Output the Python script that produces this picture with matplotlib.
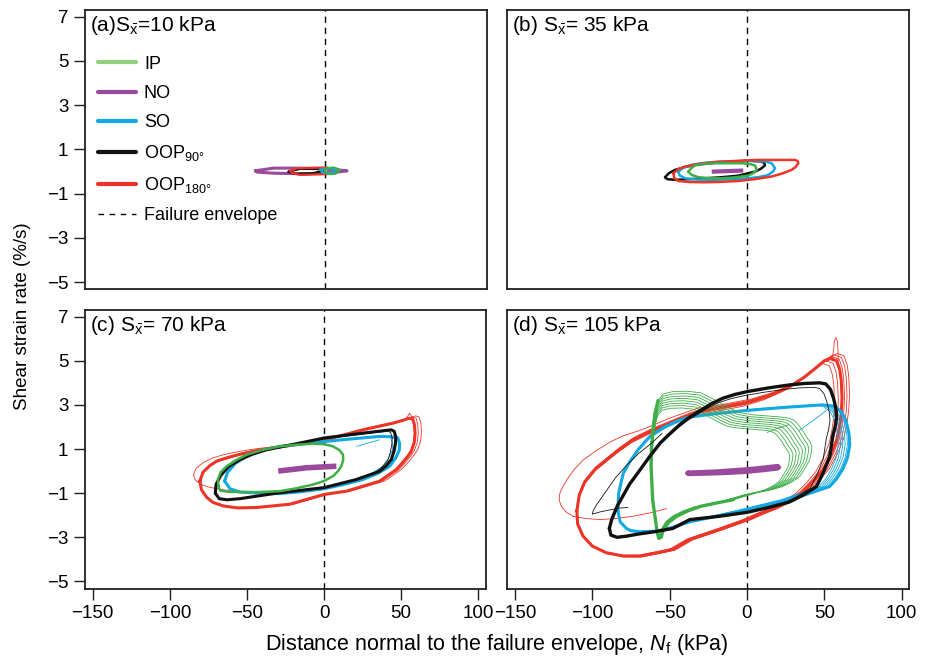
import numpy as np
import matplotlib
matplotlib.use('Agg')
import matplotlib.pyplot as plt
from matplotlib.lines import Line2D

plt.rcParams['font.family'] = ['Liberation Sans', 'DejaVu Sans']
plt.rcParams['mathtext.fontset'] = 'custom'
plt.rcParams['mathtext.rm'] = 'Liberation Sans'
plt.rcParams['mathtext.it'] = 'Liberation Sans:italic'
plt.rcParams['mathtext.default'] = 'regular'
plt.rcParams['lines.solid_joinstyle'] = 'round'
plt.rcParams['lines.solid_capstyle'] = 'round'

# colours
c_ip = '#3fae49'
c_no = '#9a4a9c'
c_so = '#12a8e2'
c_90 = '#111111'
c_180 = '#ec3427'
c_ip_leg = '#93d07c'

xticks = [-150, -100, -50, 0, 50, 100]
yticks = [-5, -3, -1, 1, 3, 5, 7]
titles = ['(a)S$_{\\bar{x}}$=10 kPa', '(b) S$_{\\bar{x}}$= 35 kPa',
          '(c) S$_{\\bar{x}}$= 70 kPa', '(d) S$_{\\bar{x}}$= 105 kPa']
leg_labels = ['IP', 'NO', 'SO', 'OOP$_{90°}$', 'OOP$_{180°}$', 'Failure envelope']

# ---- panel (a), S = 10 kPa
a_ip_x = [-0.6, 5.8, 10.1, 6.9, 1.5]
a_ip_y = [0.12, 0.18, 0.07, -0.11, -0.12]
a_no_x = [-44.8, -33, -20, -2.8, 8, 14.5, 8, -11.4, -33, -43.7]
a_no_y = [0.03, 0.15, 0.15, 0.12, 0.07, 0.03, -0.03, -0.11, -0.08, -0.03]
a_so_x = [-3, 2, 7, 5, -1]
a_so_y = [0.08, 0.14, 0.06, -0.06, -0.05]
a_90_x = [-23.3, -15.7, -2.8, -0.6, -7.1, -20]
a_90_y = [-0.01, 0.12, 0.12, 0.04, -0.08, -0.11]
a_180_x = [-22.2, -17.8, 1.5, 5.8, 1.5, -15.7, -21.1]
a_180_y = [0.03, 0.15, 0.18, 0.07, -0.12, -0.16, -0.08]

# ---- panel (b), S = 35 kPa
b_ip_x = [-37.9, -36, -33.6, -27, -20.7, -3.4, 2, 5.2, 6.3, 4, 0.8, -8, -16.4, -25, -31.5, -36]
b_ip_y = [-0.01, 0.15, 0.27, 0.34, 0.37, 0.37, 0.33, 0.27, 0.07, -0.08, -0.19, -0.27, -0.31, -0.3, -0.26, -0.15]
b_no_x = [-22.8, -2.4]
b_no_y = [-0.01, 0.04]
b_so_x = [-44.4, -41, -35.7, -26, -16.4, 5.2, 12, 16, 18.1, 17, 13.8, 8, 0.8, -10, -20.7, -32, -40, -43.5]
b_so_y = [-0.01, 0.17, 0.3, 0.4, 0.45, 0.49, 0.45, 0.37, 0.15, 0.0, -0.16, -0.25, -0.31, -0.35, -0.38, -0.37, -0.31, -0.18]
b_90_x = [-53, -50.5, -46.5, -40, -33.6, -16.4, 0.8, 9.5, 11.3, 11.6, 9, 5.2, -5.6, -16, -27.1, -37, -46.5, -51.5]
b_90_y = [-0.26, -0.08, 0.07, 0.2, 0.3, 0.42, 0.48, 0.45, 0.38, 0.27, 0.12, -0.01, -0.19, -0.26, -0.31, -0.35, -0.38, -0.35]
b_180_x = [-47.6, -44.5, -40, -31, -20.7, 5.2, 31, 32.8, 33.2, 31.5, 28.9, 23, 16, 5, -5.6, -16, -27.1, -37, -44.4, -47]
b_180_y = [-0.08, 0.1, 0.22, 0.34, 0.42, 0.52, 0.52, 0.47, 0.37, 0.2, 0.07, -0.09, -0.23, -0.35, -0.43, -0.47, -0.49, -0.48, -0.43, -0.3]

# ---- panel (c), S = 70 kPa
c_ip_x = [-68.5, -68.8, -67, -63.1, -57, -50.2, -40, -28.6, -17, -7.1, 0, 5.8, 10, 12.3, 12.4, 11.2,
          8.8, 5.8, 0, -7.1, -18, -28.6, -42, -54.5, -62, -67.4]
c_ip_y = [-0.68, -0.35, -0.05, 0.22, 0.5, 0.74, 0.96, 1.12, 1.2, 1.24, 1.22, 1.12, 0.95, 0.74, 0.5, 0.22,
          -0.02, -0.23, -0.45, -0.61, -0.78, -0.91, -0.95, -0.95, -0.94, -0.88]
c_no_x = [-29.7, -11.4, 8]
c_no_y = [0.0, 0.15, 0.22]
c_so_x = [-64.5, -61, -54.5, -42, -28.6, -14, 0, 12, 25.2, 35, 42.5, 46.5, 48.8, 49, 47.8, 43, 36, 18, 0,
          -14, -28.6, -40, -50.2, -57.5, -62.5]
c_so_y = [-0.45, -0.8, -0.95, -1.0, -1.02, -0.93, -0.8, -0.62, -0.38, -0.1, 0.22, 0.6, 0.95, 1.25, 1.5, 1.56,
          1.57, 1.46, 1.34, 1.23, 1.12, 0.93, 0.67, 0.35, -0.05]
c_90_x = [-70.5, -70, -67, -62, -54.5, -46, -37.2, -17.8, 0, 25.2, 43.6, 45.5, 46.5, 46.3, 45.3, 43.6,
          40, 36, 21, 0, -28.6, -45, -54.5, -63, -68]
c_90_y = [-1.0, -0.6, -0.2, 0.2, 0.52, 0.78, 0.97, 1.24, 1.5, 1.72, 1.87, 1.8, 1.55, 1.27, 0.9, 0.52,
          0.22, -0.01, -0.38, -0.75, -0.98, -1.15, -1.25, -1.3, -1.25]
c_180_x = [-80.5, -78.5, -74, -69.6, -62, -54.5, -44, -33, -16, 0, 25.2, 44.6, 51, 55.4, 57.5, 58.6,
           59, 58.5, 56.5, 54.3, 50.5, 46.8, 36, 14.5, 0, -22.2, -43.7, -56, -65.3, -72, -76, -79.5]
c_180_y = [-0.45, -0.05, 0.25, 0.45, 0.62, 0.76, 0.92, 1.05, 1.22, 1.4, 1.87, 2.17, 2.3, 2.4, 2.35, 2.1,
           1.7, 1.3, 0.9, 0.67, 0.35, 0.07, -0.46, -0.91, -1.06, -1.5, -1.65, -1.67, -1.58, -1.42, -1.2, -0.85]
c_180_start_x = [-43.7, -55, -65, -74, -80, -83.5, -84.7, -83, -78, -72, -65.3, -58, -50, -42, -33]
c_180_start_y = [-0.98, -0.93, -0.85, -0.74, -0.6, -0.4, -0.16, 0.12, 0.4, 0.6, 0.74, 0.85, 0.95, 1.03, 1.1]
c_180_spike_x = [53, 55.4, 57.5]
c_180_spike_y = [2.35, 2.62, 2.4]
c_so_start_x = [21, 36]
c_so_start_y = [1.12, 1.42]

# ---- panel (d), S = 105 kPa
d_ip_x = [-59.5, -57.5, -54, -48, -39, -30, -20, -11, -4.7, 4, 13, 22, 27, 30, 32, 35.5, 38.5, 41, 42,
          41.5, 40.5, 37.5, 34, 29, 23, 16, 8, -9, -20, -30, -38, -45.5, -51, -54.5, -55.5, -57, -58,
          -59, -61, -62, -61.8, -61]
d_ip_y = [2.6, 3.2, 3.5, 3.6, 3.62, 3.55, 3.2, 2.85, 2.65, 2.55, 2.5, 2.45, 2.4, 2.32, 2.2, 1.9, 1.55, 1.3, 1.1,
          0.8, 0.5, 0.12, -0.25, -0.5, -0.7, -0.84, -0.95, -1.3, -1.45, -1.6, -1.8, -2.05, -2.35, -2.75,
          -3.0, -3.05, -2.8, -2.3, -1.3, 0.2, 1.0, 1.75]
d_no_x = [-38, -30, -20, -10, 0, 10, 20, 21, 20, 10, 0, -10, -20, -30, -38, -39]
d_no_y = [-0.05, -0.03, 0.0, 0.05, 0.1, 0.17, 0.25, 0.17, 0.1, 0.02, -0.05, -0.09, -0.12, -0.14, -0.15, -0.1]
d_so_x = [-83.5, -83, -80, -76, -70, -63, -53, -43.5, -37, -18, 0, 27, 49, 56, 61, 64, 66, 66.5, 65, 62,
          58, 53.5, 41, 27.5, 14, 0, -18, -37, -48, -58, -69, -75, -78, -82]
d_so_y = [-1.8, -1.0, -0.1, 0.4, 1.0, 1.55, 2.0, 2.3, 2.45, 2.62, 2.75, 2.9, 3.0, 2.95, 2.7, 2.3, 1.7, 1.2, 0.6,
          0.1, -0.35, -0.7, -1.0, -1.3, -1.52, -1.75, -2.02, -2.3, -2.55, -2.72, -2.75, -2.7, -2.6, -2.3]
d_90_x = [-89, -87.5, -84, -80, -76, -69, -62.5, -56, -49.5, -43.5, -37, -30, -23, -15.7, -8, 0, 14, 27,
          37, 47, 51, 54, 56, 57.5, 58, 57, 55.5, 53.5, 49.5, 45, 36, 27.5, 14, 0, -18, -37, -48, -60,
          -70, -78, -84, -88]
d_90_y = [-2.6, -2.2, -1.6, -1.1, -0.6, 0.07, 0.7, 1.28, 1.72, 2.1, 2.45, 2.75, 3.05, 3.3, 3.47, 3.6, 3.77, 3.9,
          3.97, 4.0, 3.95, 3.7, 3.3, 2.85, 2.45, 2.0, 1.6, 0.65, -0.05, -0.7, -1.1, -1.4, -1.65, -1.87, -2.05,
          -2.2, -2.6, -2.75, -2.85, -2.95, -3.0, -2.9]
d_180_x = [-110, -108.5, -105, -98, -91, -83, -74, -63, -52, -41, -30.5, -15, 0, 14, 27, 37, 45, 50, 54,
           58, 60, 61, 61.5, 61, 59.8, 58, 54, 49, 43, 36, 27, 17, 8, 0, -18, -37, -48, -58, -69, -80,
           -91, -100, -106, -109.5]
d_180_y = [-1.8, -1.1, -0.5, 0.1, 0.5, 0.95, 1.4, 1.78, 2.1, 2.42, 2.7, 2.9, 3.1, 3.4, 3.8, 4.25, 4.7, 5.0, 5.1,
           5.0, 4.6, 4.1, 3.3, 2.6, 2.0, 1.4, 0.7, 0.05, -0.45, -0.95, -1.35, -1.7, -1.95, -2.2, -2.65,
           -3.1, -3.55, -3.7, -3.85, -3.85, -3.7, -3.4, -2.95, -2.4]
d_180_start_x = [-52, -63, -74, -85, -95, -104, -112.5, -117, -120, -121.5, -121, -119, -116.5, -112,
                 -106, -98, -89, -80, -69, -60, -50, -40, -30]
d_180_start_y = [-1.7, -1.9, -2.05, -2.15, -2.2, -2.15, -2.05, -1.85, -1.6, -1.3, -1.0, -0.7, -0.4, 0.05,
                 0.5, 0.9, 1.3, 1.6, 1.85, 2.1, 2.4, 2.65, 2.9]
d_180_spike_x = [55, 56.2, 56.5, 57.5, 58.5, 58.8, 59]
d_180_spike_y = [5.0, 5.6, 5.9, 6.05, 5.9, 5.6, 5.0]
d_90_start_x = [-77, -83, -88, -95, -100, -99.5, -97, -91, -85, -78, -70, -62, -55]
d_90_start_y = [-1.65, -1.68, -1.75, -1.85, -1.95, -1.8, -1.5, -0.9, -0.3, 0.25, 0.8, 1.25, 1.7]
d_ip_start_x = [13, 20, 27]
d_ip_start_y = [1.75, 1.95, 2.1]
d_so_start_x = [34, 43, 51.5]
d_so_start_y = [1.85, 2.3, 2.75]

# successive loading cycles: scale factor of each cycle about an anchor point
d_ip_cycles = [1.0, 0.98, 0.96, 0.94, 0.92, 0.9, 0.88, 0.86]
d_so_cycles = [1.0, 0.99, 0.98, 0.97, 0.96, 0.95]
d_180_cycles = [0.97, 0.985, 1.01, 1.02, 1.03]
d_90_cycles = [1.0, 0.97]
c_so_cycles = [1.0, 0.98, 0.96]
c_90_cycles = [1.0, 0.98]
c_180_cycles = [1.0, 1.015, 1.03]


def closed(x, y):
    x = np.asarray(x, float)
    y = np.asarray(y, float)
    return np.r_[x, x[:1]], np.r_[y, y[:1]]


def cycles(ax, x, y, color, scales, anchor, lw, yscale=True):
    x, y = closed(x, y)
    for s in scales:
        sy = s if yscale else 1.0
        ax.plot(anchor[0] + (x - anchor[0]) * s, anchor[1] + (y - anchor[1]) * sy,
                color=color, lw=lw)


fig = plt.figure(figsize=(9.27, 6.58), dpi=100)
W, H = 927, 658
boxes = [(85, 10, 402, 279.3), (507.3, 10, 402, 279.3),
         (85, 310, 401, 278.7), (507.3, 310, 402, 278.7)]
axes = []
for (l, t, w, h) in boxes:
    axes.append(fig.add_axes([l / W, 1 - (t + h) / H, w / W, h / H]))

for i, ax in enumerate(axes):
    ax.set_xlim(-155, 105)
    ax.set_ylim(-5.33, 7.3)
    ax.axvline(0, color='black', lw=1.0, ls=(0, (4.5, 3.5)), zorder=1)
    for sp in ax.spines.values():
        sp.set_linewidth(1.3)
        sp.set_color('#231f20')
    ax.set_xticks(xticks)
    ax.set_yticks(yticks)
    ax.tick_params(direction='out', length=8, width=1.0, labelsize=13.5, color='#231f20', pad=4)
    if i % 2 == 1:
        ax.tick_params(left=False, labelleft=False)
    if i < 2:
        ax.tick_params(bottom=False, labelbottom=False)
    ax.text(0.012, 0.985, titles[i], transform=ax.transAxes, fontsize=15, va='top', ha='left')

# (a)
ax = axes[0]
for x, y, c in [(a_no_x, a_no_y, c_no), (a_90_x, a_90_y, c_90), (a_180_x, a_180_y, c_180),
                (a_so_x, a_so_y, c_so), (a_ip_x, a_ip_y, c_ip)]:
    xx, yy = closed(x, y)
    ax.plot(xx, yy, color=c, lw=2.2 if c == c_no else 1.6)

# (b)
ax = axes[1]
for x, y, c in [(b_90_x, b_90_y, c_90), (b_so_x, b_so_y, c_so), (b_180_x, b_180_y, c_180),
                (b_ip_x, b_ip_y, c_ip)]:
    xx, yy = closed(x, y)
    ax.plot(xx, yy, color=c, lw=1.8)
ax.plot(b_no_x, b_no_y, color=c_no, lw=3, solid_capstyle='butt')

# (c)
ax = axes[2]
ax.plot(c_180_start_x, c_180_start_y, color=c_180, lw=0.6)
ax.plot(c_180_spike_x, c_180_spike_y, color=c_180, lw=0.6)
cycles(ax, c_180_x, c_180_y, c_180, c_180_cycles[1:], (-80, -1), 0.6)
cycles(ax, c_180_x, c_180_y, c_180, c_180_cycles[:1], (-80, -1), 2.2)
cycles(ax, c_so_x, c_so_y, c_so, c_so_cycles[1:], (-65, 0), 0.6, yscale=False)
cycles(ax, c_so_x, c_so_y, c_so, c_so_cycles[:1], (-65, 0), 2.2)
ax.plot(c_so_start_x, c_so_start_y, color=c_so, lw=0.6)
cycles(ax, c_90_x, c_90_y, c_90, c_90_cycles[1:], (-70, -1), 0.6)
cycles(ax, c_90_x, c_90_y, c_90, c_90_cycles[:1], (-70, -1), 2.2)
cycles(ax, c_ip_x, c_ip_y, c_ip, [1.0], (0, 0), 1.8)
ax.plot(c_no_x, c_no_y, color=c_no, lw=4, solid_capstyle='butt')

# (d)
ax = axes[3]
ax.plot(d_180_start_x, d_180_start_y, color=c_180, lw=0.6)
ax.plot(d_180_spike_x, d_180_spike_y, color=c_180, lw=0.6)
cycles(ax, d_180_x, d_180_y, c_180, d_180_cycles, (-100, -2.5), 0.6)
cycles(ax, d_180_x, d_180_y, c_180, [1.0], (-100, -2.5), 2.2)
cycles(ax, d_so_x, d_so_y, c_so, d_so_cycles[1:], (-83, 0), 0.6, yscale=False)
cycles(ax, d_so_x, d_so_y, c_so, d_so_cycles[:1], (-83, 0), 2.2)
ax.plot(d_so_start_x, d_so_start_y, color=c_so, lw=0.6)
cycles(ax, d_ip_x, d_ip_y, c_ip, d_ip_cycles, (-60, -1.8), 0.6)
ax.plot(d_ip_x[27:] + d_ip_x[:2], d_ip_y[27:] + d_ip_y[:2], color=c_ip, lw=2.4)
ax.plot(d_ip_start_x, d_ip_start_y, color=c_ip, lw=0.6)
ax.plot(d_90_start_x, d_90_start_y, color=c_90, lw=0.6)
cycles(ax, d_90_x, d_90_y, c_90, d_90_cycles[1:], (-85, -2.8), 0.6)
cycles(ax, d_90_x, d_90_y, c_90, d_90_cycles[:1], (-85, -2.8), 2.4)
cycles(ax, d_no_x, d_no_y, c_no, [1.0], (0, 0), 2.5)

# legend in panel (a)
handles = [Line2D([], [], color=c_ip_leg, lw=3),
           Line2D([], [], color=c_no, lw=3),
           Line2D([], [], color=c_so, lw=3),
           Line2D([], [], color=c_90, lw=3),
           Line2D([], [], color=c_180, lw=3),
           Line2D([], [], color='black', lw=1.0, ls=(0, (4, 4)))]
axes[0].legend(handles, leg_labels, loc='upper left', bbox_to_anchor=(0.005, 0.875),
               frameon=False, fontsize=13, handlelength=2.1, handletextpad=0.45,
               labelspacing=0.67, borderaxespad=0.2)

fig.text(0.024, 0.52, 'Shear strain rate (%/s)', rotation=90, fontsize=13.5,
         ha='center', va='center')
fig.text(0.536, 0.02, 'Distance normal to the failure envelope, $\\mathit{N}_{f}$ (kPa)',
         fontsize=15.5, ha='center', va='center')

fig.savefig('out.png', dpi=100)
